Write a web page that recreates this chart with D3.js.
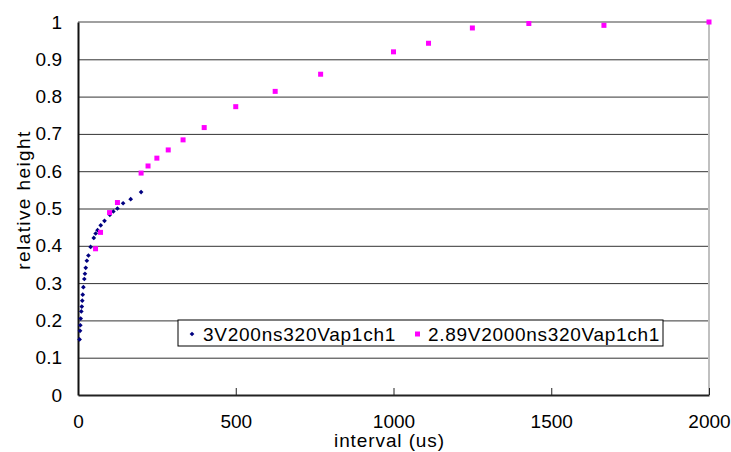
<!DOCTYPE html>
<html>
<head>
<meta charset="utf-8">
<script src="https://cdn.jsdelivr.net/npm/d3@7"></script>
<style>
  html, body { margin: 0; padding: 0; background: #fff; }
  text { font-family: "Liberation Sans", Arial, sans-serif; fill: #000; }
</style>
</head>
<body>
<div id="chart"></div>
<script>
// Chart data
const seriesNames = ['3V200ns320Vap1ch1', '2.89V2000ns320Vap1ch1']

const blueX = [5, 6.5, 7.5, 8.5, 10.5, 12, 13.5, 15, 17, 20, 22, 24.5, 28, 33, 40, 50, 56, 62, 72, 84, 101, 112, 125, 143, 167, 200]
const blueY = [0.149, 0.172, 0.187, 0.205, 0.224, 0.237, 0.253, 0.269, 0.289, 0.311, 0.325, 0.341, 0.360, 0.374, 0.397, 0.421, 0.433, 0.442, 0.455, 0.467, 0.483, 0.492, 0.500, 0.514, 0.525, 0.544]

const pinkX = [55.6, 71.4, 100, 125, 200, 222, 250, 286, 333, 400, 500, 625, 769, 1000, 1111, 1250, 1429, 1667, 2000]
const pinkY = [0.392, 0.436, 0.489, 0.516, 0.595, 0.614, 0.635, 0.657, 0.684, 0.717, 0.773, 0.814, 0.860, 0.920, 0.943, 0.984, 0.996, 0.991, 1.0]

const xTicks = [0, 500, 1000, 1500, 2000]
const yTicks = [0, 0.1, 0.2, 0.3, 0.4, 0.5, 0.6, 0.7, 0.8, 0.9, 1]

// Layout
var width = 731
var height = 452
var margin = { top: 22, right: 22, bottom: 57, left: 78 }
var w = width - margin.left - margin.right
var h = height - margin.top - margin.bottom

const xScale = d3.scaleLinear().domain([0, 2000]).range([0, w])
const yScale = d3.scaleLinear().domain([0, 1]).range([h, 0])

var root = d3.select('#chart')
  .append('svg')
  .attr('width', width)
  .attr('height', height)

root.append('rect').attr('width', width).attr('height', height).attr('fill', '#fff')

var svg = root.append('g')
  .attr('transform', `translate(${margin.left}, ${margin.top})`)

// gridlines
svg.append('g')
  .attr('class', 'grid')
  .call(d3.axisLeft(yScale).tickValues(yTicks.slice(1, -1)).tickSize(-w).tickFormat(''))
  .call(g => g.select('.domain').remove())
  .call(g => g.selectAll('line').attr('stroke', '#333').attr('stroke-width', 1))

// plot border (top grey, right light grey)
svg.append('line').attr('x1', 0).attr('x2', w).attr('y1', 0).attr('y2', 0)
  .attr('stroke', '#808080').attr('stroke-width', 1.5)
svg.append('line').attr('x1', w).attr('x2', w).attr('y1', 0).attr('y2', h)
  .attr('stroke', '#c0c0c0').attr('stroke-width', 2)

// x axis
const xAxis = d3.axisBottom(xScale).tickValues(xTicks).tickSizeInner(-7).tickSizeOuter(0)
  .tickFormat(d3.format('d'))
svg.append('g')
  .attr('id', 'x-axis')
  .attr('transform', `translate(0, ${h})`)
  .call(xAxis)
  .call(g => g.select('.domain').attr('stroke', '#222').attr('stroke-width', 2))
  .call(g => g.selectAll('.tick line').attr('stroke', '#222'))
  .call(g => g.selectAll('.tick text').attr('y', 33).attr('dy', 0)
    .style('font-size', '19px'))

// y axis
const yAxis = d3.axisLeft(yScale).tickValues(yTicks).tickSize(0).tickPadding(16)
  .tickFormat(d => d3.format('~g')(d))
svg.append('g')
  .attr('id', 'y-axis')
  .call(yAxis)
  .call(g => g.select('.domain').attr('stroke', '#111').attr('stroke-width', 2))
  .call(g => g.selectAll('.tick text').style('font-size', '19px'))

// axis titles
root.append('text')
  .attr('x', margin.left + w / 2 - 4)
  .attr('y', 447)
  .attr('text-anchor', 'middle')
  .style('font-size', '19px')
  .style('letter-spacing', '0.9px')
  .text('interval (us)')

root.append('text')
  .attr('transform', 'translate(30, 200) rotate(-90)')
  .attr('text-anchor', 'middle')
  .style('font-size', '19px')
  .style('letter-spacing', '1.4px')
  .text('relative height')

// points
const blueData = blueX.map((x, i) => [x, blueY[i]])
const pinkData = pinkX.map((x, i) => [x, pinkY[i]])

// small rotated square for the navy series
const dot = d3.symbol().type(d3.symbolSquare).size(11)

svg.append('g').selectAll('path')
  .data(blueData)
  .enter()
  .append('path')
  .attr('d', dot)
  .attr('transform', d => `translate(${xScale(d[0])}, ${yScale(d[1])}) rotate(45)`)
  .attr('fill', '#000080')

svg.append('g').selectAll('rect')
  .data(pinkData)
  .enter()
  .append('rect')
  .attr('x', d => xScale(d[0]) - 2.5)
  .attr('y', d => yScale(d[1]) - 2.5)
  .attr('width', 5)
  .attr('height', 5)
  .attr('fill', '#ff00ff')

// legend
var legend = root.append('g').attr('transform', 'translate(178, 320)')
legend.append('rect')
  .attr('width', 485).attr('height', 26)
  .attr('fill', '#fff').attr('stroke', '#000').attr('stroke-width', 1)
legend.append('path')
  .attr('d', dot)
  .attr('transform', 'translate(14, 14) rotate(45)')
  .attr('fill', '#000080')
legend.append('text')
  .attr('x', 25).attr('y', 21)
  .style('font-size', '19px')
  .style('letter-spacing', '0.75px')
  .text(seriesNames[0])
legend.append('rect')
  .attr('x', 237).attr('y', 11.5).attr('width', 5).attr('height', 5)
  .attr('fill', '#ff00ff')
legend.append('text')
  .attr('x', 250).attr('y', 21)
  .style('font-size', '19px')
  .style('letter-spacing', '0.7px')
  .text(seriesNames[1])
</script>
</body>
</html>
